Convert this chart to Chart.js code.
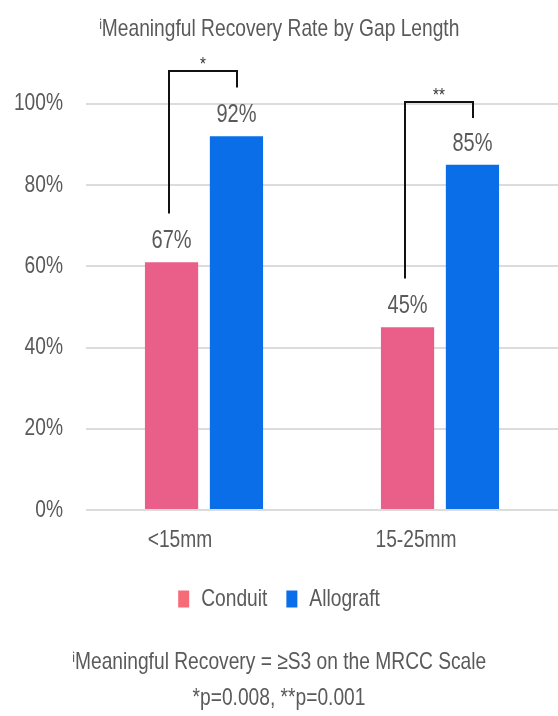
<!DOCTYPE html>
<html>
<head>
<meta charset="utf-8">
<script src="https://cdn.jsdelivr.net/npm/chart.js@4/dist/chart.umd.min.js"></script>
<style>
  html, body { margin: 0; padding: 0; background: #fff; }
  #wrap { width: 558px; height: 716px; }
</style>
</head>
<body>
<div id="wrap"><canvas id="c" width="558" height="716"></canvas></div>
<script>
const categories = ['<15mm', '15-25mm'];
const seriesNames = ['Conduit', 'Allograft'];
const conduitValues = [61, 45];
const allograftValues = [92, 85];
const conduitLabels = ['67%', '45%'];
const allograftLabels = ['92%', '85%'];
const yTicks = [0, 20, 40, 60, 80, 100];
const bracketMarks = ['*', '**'];
const bracketTop = [108, 100.5];
const bracketLeftEnd = [73, 57];
const bracketRightEnd = [104, 96.5];
const titleText = 'ⁱMeaningful Recovery Rate by Gap Length';
const footnoteLines = ['ⁱMeaningful Recovery = ≥S3 on the MRCC Scale', '*p=0.008, **p=0.001'];

const FONT = '"Liberation Sans", Arial, sans-serif';
const TEXT = '#5a5a5a';
const SX = 0.8; // condensed text look

const canvas = document.getElementById('c');
const ctx2d = canvas.getContext('2d');
const origFill = ctx2d.fillText.bind(ctx2d);
const origMeasure = ctx2d.measureText.bind(ctx2d);
ctx2d.fillText = function (t, x, y) {
  this.save();
  this.translate(x, y);
  this.scale(SX, 1);
  origFill(t, 0, 0);
  this.restore();
};
ctx2d.measureText = function (t) {
  const m = origMeasure(t);
  return {
    width: m.width * SX,
    actualBoundingBoxAscent: m.actualBoundingBoxAscent,
    actualBoundingBoxDescent: m.actualBoundingBoxDescent,
    actualBoundingBoxLeft: m.actualBoundingBoxLeft * SX,
    actualBoundingBoxRight: m.actualBoundingBoxRight * SX,
    fontBoundingBoxAscent: m.fontBoundingBoxAscent,
    fontBoundingBoxDescent: m.fontBoundingBoxDescent
  };
};

const valueLabels = {
  id: 'valueLabels',
  afterDatasetsDraw(chart) {
    const ctx = chart.ctx;
    const lbls = [conduitLabels, allograftLabels];
    ctx.save();
    ctx.font = '25px ' + FONT;
    ctx.fillStyle = TEXT;
    ctx.textAlign = 'center';
    ctx.textBaseline = 'middle';
    chart.data.datasets.forEach((ds, di) => {
      const meta = chart.getDatasetMeta(di);
      meta.data.forEach((el, i) => {
        ctx.fillText(lbls[di][i], el.x, el.y - 21);
      });
    });
    ctx.restore();
  }
};

const brackets = {
  id: 'brackets',
  afterDatasetsDraw(chart) {
    const ctx = chart.ctx;
    const y = chart.scales.y;
    const m0 = chart.getDatasetMeta(0), m1 = chart.getDatasetMeta(1);
    ctx.save();
    ctx.strokeStyle = '#111';
    ctx.lineWidth = 2;
    ctx.fillStyle = '#333';
    ctx.font = '19px ' + FONT;
    ctx.textAlign = 'center';
    ctx.textBaseline = 'bottom';
    bracketMarks.forEach((mark, i) => {
      const xl = Math.round(m0.data[i].x - 3);
      const xr = Math.round(m1.data[i].x + 1);
      const yt = Math.round(y.getPixelForValue(bracketTop[i]));
      const yl = y.getPixelForValue(bracketLeftEnd[i]);
      const yr = y.getPixelForValue(bracketRightEnd[i]);
      ctx.beginPath();
      ctx.moveTo(xl, yl);
      ctx.lineTo(xl, yt);
      ctx.lineTo(xr, yt);
      ctx.lineTo(xr, yr);
      ctx.stroke();
      ctx.fillText(mark, (xl + xr) / 2, yt + 3);
    });
    ctx.restore();
  }
};

new Chart(canvas, {
  type: 'bar',
  data: {
    labels: categories,
    datasets: [
      { label: seriesNames[0], data: conduitValues, backgroundColor: '#e95f8a' },
      { label: seriesNames[1], data: allograftValues, backgroundColor: '#0a6ee8' }
    ]
  },
  options: {
    responsive: false,
    animation: false,
    devicePixelRatio: 1,
    layout: { padding: { top: 9, left: 0, right: 0, bottom: 0 } },
    datasets: { bar: { barPercentage: 0.82, categoryPercentage: 0.55 } },
    scales: {
      x: {
        afterFit(scale) { scale.height = 58; },
        grid: { display: false },
        border: { display: false },
        ticks: { color: TEXT, font: { family: FONT, size: 24 }, padding: 8, labelOffset: -24 }
      },
      y: {
        min: 0, max: 100,
        afterFit(scale) { scale.width = 86; },
        afterBuildTicks(scale) { scale.ticks = yTicks.map(v => ({ value: v })); },
        grid: { color: '#dcdcdc', lineWidth: 2, drawTicks: false },
        border: { display: false },
        ticks: { color: TEXT, font: { family: FONT, size: 24 }, padding: 23, callback: v => v + '%' }
      }
    },
    plugins: {
      title: {
        display: true, text: titleText, color: TEXT,
        font: { family: FONT, size: 24, weight: 'normal' },
        padding: { top: 6, bottom: 60 }
      },
      legend: {
        position: 'bottom',
        labels: { color: TEXT, font: { family: FONT, size: 24 }, boxWidth: 11, boxHeight: 17, padding: 19,
          generateLabels(chart) {
            const cols = ['#f76a78', '#0a6ee8'];
            return chart.data.datasets.map((d, i) => ({ text: d.label, fillStyle: cols[i], strokeStyle: cols[i], lineWidth: 0, datasetIndex: i, fontColor: TEXT }));
          }
        }
      },
      subtitle: {
        display: true, position: 'bottom', text: footnoteLines, color: TEXT,
        font: { family: FONT, size: 24, weight: 'normal', lineHeight: 1.5 },
        padding: { top: 23, bottom: 0 }
      },
      tooltip: { enabled: false }
    }
  },
  plugins: [valueLabels, brackets]
});
</script>
</body>
</html>
